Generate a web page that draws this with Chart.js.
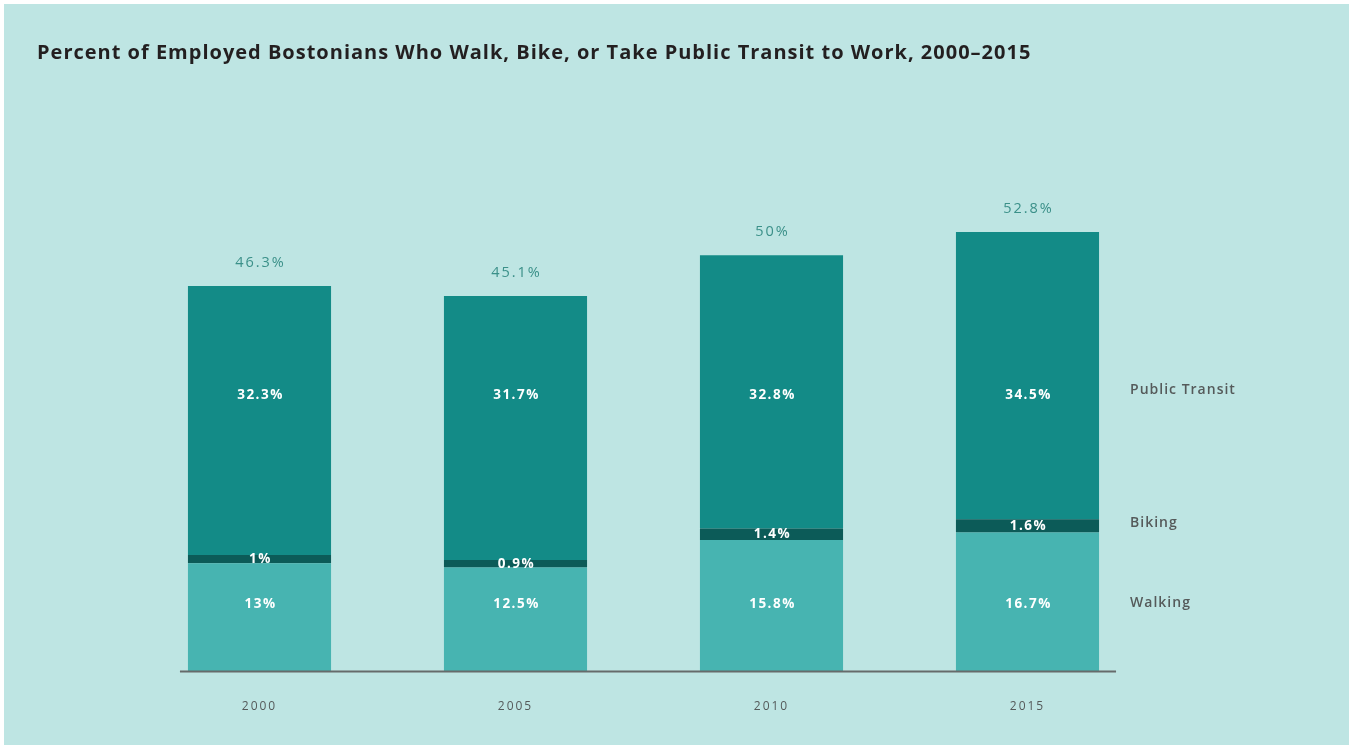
<!DOCTYPE html>
<html>
<head>
<meta charset="utf-8">
<script src="https://cdn.jsdelivr.net/npm/chart.js@4"></script>
<style>
  html, body { margin: 0; padding: 0; background: #ffffff; overflow: hidden; }
  #wrap { position: absolute; left: 4px; top: 4px; width: 1345px; height: 741px; background: #bee5e3; }
</style>
</head>
<body>
<div id="wrap"><canvas id="commuteChart"></canvas></div>
<script>
// Values
const years = ["2000", "2005", "2010", "2015"];
const walking = [13, 12.5, 15.8, 16.7];
const biking = [1, 0.9, 1.4, 1.6];
const transit = [32.3, 31.7, 32.8, 34.5];
const totals = [46.3, 45.1, 50, 52.8];
const seriesNames = ["Walking", "Biking", "Public Transit"];
const chartTitle = "Percent of Employed Bostonians Who Walk, Bike, or Take Public Transit to Work, 2000\u20132015";

const colors = ["#47b4b1", "#0c5b58", "#138b87"];
// where the in-bar labels and side labels sit, in axis units
const barLabelAt = [8.05, null, 33.2];
const sideLabelAt = [8.2, 17.8, 33.8];

const fmt = v => v + "%";

// Titles, value labels, side labels and the baseline
const annotations = {
  id: "annotations",
  beforeDraw(chart) {
    // spaced-out year labels
    chart.ctx.letterSpacing = "2px";
  },
  afterDatasetsDraw(chart) {
    const ctx = chart.ctx;
    const y = chart.scales.y;
    ctx.save();

    // baseline
    const first = chart.getDatasetMeta(0).data[0];
    const last = chart.getDatasetMeta(0).data[years.length - 1];
    ctx.strokeStyle = "#666b6b";
    ctx.lineWidth = 2;
    ctx.beginPath();
    ctx.moveTo(first.x - first.width / 2 - 8, y.getPixelForValue(0));
    ctx.lineTo(last.x + last.width / 2 + 17, y.getPixelForValue(0));
    ctx.stroke();

    // labels inside the bars
    ctx.textAlign = "center";
    ctx.textBaseline = "middle";
    ctx.fillStyle = "#ffffff";
    ctx.font = "bold 13.5px 'Open Sans'";
    ctx.letterSpacing = "1.5px";
    chart.data.datasets.forEach((ds, i) => {
      const meta = chart.getDatasetMeta(i);
      meta.data.forEach((bar, j) => {
        const py = barLabelAt[i] === null ? (bar.y + bar.base) / 2 : y.getPixelForValue(barLabelAt[i]);
        ctx.fillText(fmt(ds.data[j]), bar.x + 1, py);
      });
    });

    // totals above bars
    ctx.fillStyle = "#3b9089";
    ctx.font = "14.5px 'Open Sans'";
    ctx.letterSpacing = "2px";
    const top = chart.getDatasetMeta(2);
    top.data.forEach((bar, j) => {
      ctx.fillText(fmt(totals[j]), bar.x + 1, bar.y - 23);
    });

    // series names on the right
    ctx.textAlign = "left";
    ctx.fillStyle = "#555a5a";
    ctx.font = "600 14px 'Open Sans'";
    ctx.letterSpacing = "1px";
    seriesNames.forEach((name, i) => {
      ctx.fillText(name, last.x + last.width / 2 + 31, y.getPixelForValue(sideLabelAt[i]));
    });

    // chart title
    ctx.fillStyle = "#231f20";
    ctx.font = "bold 20px 'Open Sans'";
    ctx.letterSpacing = "1px";
    ctx.fillText(chartTitle, 33, 49);
    ctx.restore();
  }
};

const ctx = document.getElementById("commuteChart").getContext("2d");
new Chart(ctx, {
  type: "bar",
  data: {
    labels: years,
    datasets: seriesNames.map((name, i) => ({
      label: name,
      data: [walking, biking, transit][i],
      backgroundColor: colors[i],
      borderWidth: 0,
      categoryPercentage: 1,
      barPercentage: 0.559
    }))
  },
  options: {
    responsive: true,
    maintainAspectRatio: false,
    animation: false,
    layout: { padding: { left: 127.5, right: 193.5, top: 168, bottom: 3 } },
    plugins: {
      legend: { display: false },
      tooltip: { enabled: false },
      title: { display: false }
    },
    scales: {
      x: {
        stacked: true,
        grid: { display: false, drawTicks: false },
        border: { display: false },
        ticks: {
          padding: 28,
          color: "#555a5a",
          font: { family: "'Open Sans'", size: 12 }
        }
      },
      y: {
        stacked: true,
        display: false,
        min: 0,
        max: 60
      }
    }
  },
  plugins: [annotations]
});
</script>
</body>
</html>
